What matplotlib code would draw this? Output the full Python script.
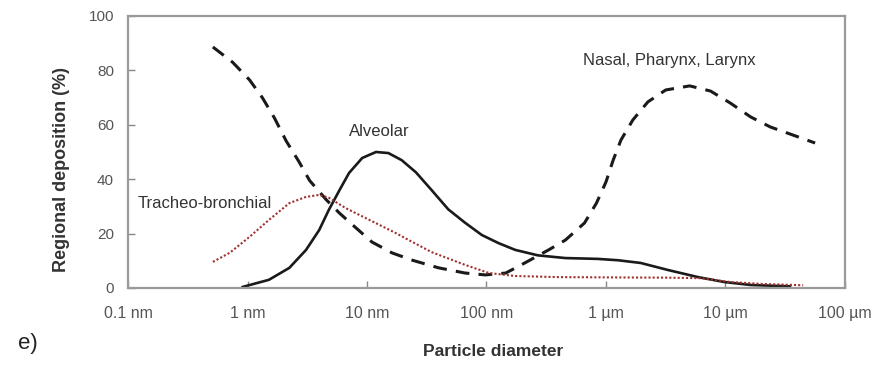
import matplotlib
matplotlib.use("Agg")
import matplotlib.pyplot as plt

plt.rcParams["font.family"] = ["Liberation Sans", "DejaVu Sans"]

# particle diameter in nm, regional deposition in %
nasal_d = [0.513, 0.750, 1.04, 1.33, 1.68, 2.11, 2.69, 3.31, 4.57, 5.89, 8.13, 11.0, 16.2, 24.0,
           39.8, 66.1, 97.7, 145, 209, 331, 457, 661, 832, 1000, 1148, 1334, 1679, 2239, 3162,
           5012, 7499, 10965, 16218, 23714, 36308, 56234]
nasal_v = [88.6, 83, 76.5, 70, 62.5, 54, 46.5, 39.5, 32.4, 27.5, 22, 16.9, 12.9, 10.2,
           7.4, 5.5, 4.8, 5.5, 9.2, 14, 17.6, 23.9, 31.2, 39, 47, 54.4, 61.8, 68.4, 72.8,
           74.3, 72.4, 68, 62.9, 59.2, 56.3, 53.3]

alv_d = [0.912, 1.51, 2.24, 3.09, 3.98, 4.79, 5.89, 7.08, 9.12, 11.9, 15.1, 19.5, 25.7, 34.7,
         47.9, 66.1, 91.2, 126, 174, 269, 457, 851, 1259, 1950, 3311, 5888, 9772, 16218, 34674]
alv_v = [0.4, 3, 7.4, 14, 21.3, 28.7, 36, 42.3, 47.8, 50, 49.6, 47, 42.5, 36,
         28.9, 24, 19.5, 16.5, 14, 12, 11, 10.7, 10.2, 9.2, 6.6, 4, 2.2, 1.1, 0.6]

tb_d = [0.513, 0.708, 1.04, 1.51, 2.24, 3.09, 3.98, 4.79, 6.61, 10.5, 17.4, 22.4, 34.7, 66.1,
        105, 174, 398, 1000, 3162, 6310, 10965, 19953, 44668]
tb_v = [9.6, 12.9, 18.8, 25, 31.2, 33.5, 34.2, 33.2, 29.4, 25, 20.2, 17.6, 13.2, 8.5,
        5.5, 4.4, 4, 3.9, 3.8, 3.6, 2.2, 1.5, 1.0]

xticks = [0.1, 1, 10, 100, 1000, 10000, 100000]
xlabels = ["0.1 nm", "1 nm", "10 nm", "100 nm", "1 \u00b5m", "10 \u00b5m", "100 \u00b5m"]
yticks = [0, 20, 40, 60, 80, 100]

fig = plt.figure(figsize=(8.78, 3.65), dpi=100)
ax = fig.add_axes([0.1458, 0.2110, 0.8166, 0.7452])

ax.plot(nasal_d, nasal_v, color="#1a1a1a", lw=2.2, linestyle=(0, (4.5, 3)),
        dash_joinstyle="round")
ax.plot(alv_d, alv_v, color="#1a1a1a", lw=1.9, solid_joinstyle="round")
ax.plot(tb_d, tb_v, color="#a0302e", lw=1.5, linestyle=(0, (1, 1)))

ax.set_xscale("log")
ax.set_xlim(0.1, 1e5)
ax.set_ylim(0, 100)
ax.set_xticks(xticks)
ax.set_xticklabels(xlabels)
ax.set_yticks(yticks)
ax.minorticks_off()
ax.tick_params(axis="x", direction="in", length=5, width=1, color="#888", pad=13,
               labelsize=11.5, labelcolor="#555")
ax.tick_params(axis="y", direction="in", length=5, width=1, color="#888", pad=10,
               labelsize=11, labelcolor="#555")
for s in ax.spines.values():
    s.set_color("#9a9a9a")
    s.set_linewidth(1.6)

ax.text(645, 83.8, "Nasal, Pharynx, Larynx", fontsize=12, color="#333", va="center", ha="left")
ax.text(12.6, 57.4, "Alveolar", fontsize=12, color="#333", va="center", ha="center")
ax.text(0.12, 31, "Tracheo-bronchial", fontsize=12, color="#333", va="center", ha="left")

ax.set_ylabel("Regional deposition (%)", fontsize=13, fontweight="bold", color="#333")
ax.yaxis.set_label_coords(-0.081, 0.434)
ax.set_xlabel("Particle diameter", fontsize=12.5, fontweight="bold", color="#333")
ax.xaxis.set_label_coords(0.509, -0.205)

fig.text(0.021, 1 - 343 / 365, "e)", fontsize=16, color="#222", va="center", ha="left")

fig.savefig("out.png", dpi=100)
